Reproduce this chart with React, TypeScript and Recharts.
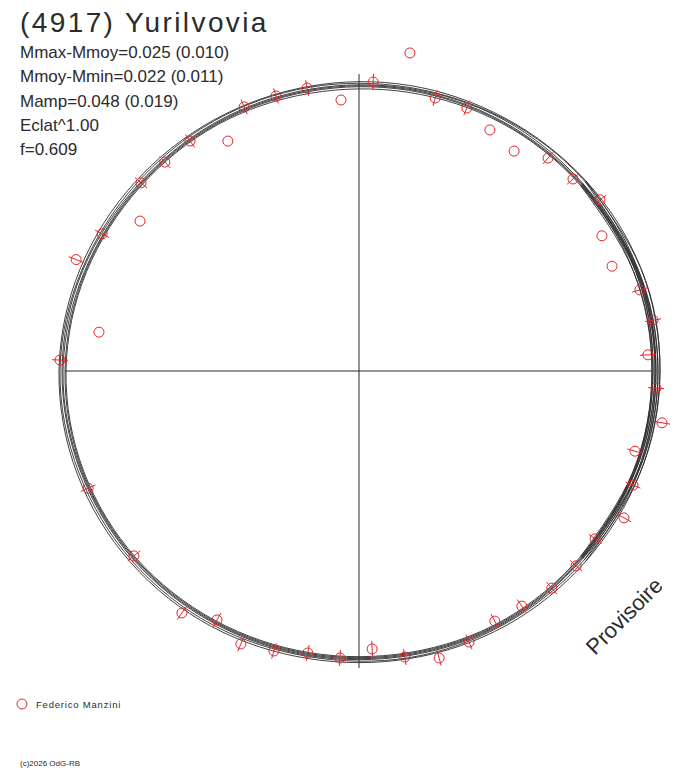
import { ReferenceLine, Scatter, ScatterChart, XAxis, YAxis } from 'recharts';

const W = 688;
const H = 768;
// plot units are chosen so that one unit is one pixel, origin at the polar centre
const X_DOMAIN: [number, number] = [-359, 329];
const Y_DOMAIN: [number, number] = [-397, 371];

const RED = '#e3262b';
const INK = '#2b2b2b';
const FONT = '"Liberation Sans", Arial, sans-serif';

// fitted light-curve models: radius every 20 degrees of phase angle
const curveAngles = [0, 20, 40, 60, 80, 100, 120, 140, 160, 180, 200, 220, 240, 260, 280, 300, 320, 340];
const curveA = [301, 300, 296, 292, 290, 289, 290, 293, 297, 300, 300, 298, 295, 292, 292, 294, 296, 299];
const curveB = [299, 297, 295, 291, 288, 288, 289, 291, 295, 299, 298, 296, 293, 290, 291, 292, 294, 297];
const curveC = [297, 296, 292, 290, 287, 286, 287, 289, 294, 297, 296, 294, 291, 289, 289, 291, 292, 296];
const curveD = [296, 295, 291, 288, 286, 285, 286, 288, 292, 296, 295, 293, 290, 288, 288, 290, 291, 294];
const curveE = [294, 294, 290, 287, 285, 284, 285, 287, 291, 294, 294, 292, 289, 287, 287, 289, 290, 293];
const curveF = [293, 292, 289, 286, 283, 282, 284, 286, 290, 293, 293, 291, 288, 286, 286, 288, 289, 292];
const curves = [curveA, curveB, curveC, curveD, curveE, curveF];

// observations (Federico Manzini): phase angle, radius, error half-length (0 = rejected point)
const obsAngle = [
  3.2, 9.8, 16.1, 22.5, 29.1, 35.4, 41.9, 48.4, 54.8, 61.5, 67.7, 74.4, 80.9, 87.2, 93.8, 100.4, 106.8,
  113.5, 119.7, 126.3, 132.9, 139.2, 145.6, 151.9, 158.5, 171.5, 177.9, 203.4, 219.4, 233.8, 240.3, 246.6,
  253.1, 259.7, 266.2, 272.7, 279.1, 285.6, 292.1, 298.5, 304.7, 311.6, 318.1, 324.6, 331.0, 337.4, 343.8,
  350.3, 356.7,
];
const obsRadius = [
  289.4, 298.4, 292.4, 273.9, 278.0, 295.5, 287.5, 284.8, 269.1, 274.3, 284.3, 283.4, 322.1, 289.3, 271.6,
  287.7, 287.3, 288.0, 264.7, 285.4, 285.2, 287.9, 265.4, 291.2, 304.0, 262.9, 299.2, 295.2, 291.3, 299.8,
  286.6, 297.4, 292.6, 286.6, 287.6, 278.3, 289.7, 297.9, 292.5, 284.6, 286.0, 290.4, 291.7, 289.7, 303.0,
  296.8, 287.4, 307.4, 297.5,
];
const obsError = [
  8, 8, 8, 0, 0, 8, 8, 8, 0, 0, 8, 8, 0, 8, 0, 8, 8, 8, 0, 8, 8, 8, 0, 8, 8, 0, 8, 8, 8, 8, 8, 8, 8, 8,
  8, 8, 8, 8, 8, 8, 8, 8, 8, 8, 8, 8, 8, 8, 8,
];

const statLines = [
  'Mmax-Mmoy=0.025 (0.010)',
  'Mmoy-Mmin=0.022 (0.011)',
  'Mamp=0.048 (0.019)',
  'Eclat^1.00',
  'f=0.609',
];

function toXY(angle: number, r: number) {
  const a = (angle * Math.PI) / 180;
  return { x: r * Math.cos(a), y: r * Math.sin(a) };
}

// wrap a couple of points round each end so the spline closes without a kink
const curveData = curves.map((radii) => {
  const pts = radii.map((r, i) => toXY(curveAngles[i], r));
  const n = pts.length;
  return [pts[n - 2], pts[n - 1], ...pts, pts[0], pts[1], pts[2]];
});

const obsData = obsAngle.map((angle, i) => ({
  ...toXY(angle, obsRadius[i]),
  angle,
  err: obsError[i],
}));

function ObsMarker(props: any) {
  const { cx, cy, payload } = props;
  const a = (payload.angle * Math.PI) / 180;
  const ux = Math.cos(a);
  const uy = -Math.sin(a);
  const e = payload.err;
  return (
    <g>
      {e > 0 && (
        <line x1={cx - ux * e} y1={cy - uy * e} x2={cx + ux * e} y2={cy + uy * e} stroke={RED} strokeWidth={1} />
      )}
      <circle cx={cx} cy={cy} r={5} fill="none" stroke={RED} strokeWidth={1} />
    </g>
  );
}

const NoMarker = () => <g />;

export default function App() {
  return (
    <div style={{ position: 'absolute', left: 0, top: 0, width: W, height: H, background: '#fff' }}>
      <ScatterChart width={W} height={H} margin={{ top: 0, right: 0, bottom: 0, left: 0 }}>
        <XAxis type="number" dataKey="x" domain={X_DOMAIN} hide allowDataOverflow />
        <YAxis type="number" dataKey="y" domain={Y_DOMAIN} hide allowDataOverflow />
        <ReferenceLine segment={[{ x: -294, y: 0 }, { x: 293, y: 0 }]} stroke={INK} strokeWidth={1} />
        <ReferenceLine segment={[{ x: 0, y: 297 }, { x: 0, y: -297 }]} stroke={INK} strokeWidth={1} />
        {curveData.map((data, i) => (
          <Scatter
            key={i}
            data={data}
            line={{ stroke: INK, strokeWidth: 0.9 }}
            lineJointType="natural"
            shape={NoMarker}
            isAnimationActive={false}
          />
        ))}
        <Scatter data={obsData} shape={ObsMarker} isAnimationActive={false} />
      </ScatterChart>
      <svg
        width={W}
        height={H}
        style={{ position: 'absolute', left: 0, top: 0, pointerEvents: 'none' }}
        fontFamily={FONT}
        fill={INK}
      >
        <text x={20} y={32} fontSize={28} letterSpacing={2.4}>
          (4917) Yurilvovia
        </text>
        {statLines.map((line, i) => (
          <text key={line} x={20} y={58 + i * 24.3} fontSize={17}>
            {line}
          </text>
        ))}
        <text x={595} y={656} fontSize={22} transform="rotate(-45 595 656)">
          Provisoire
        </text>
        <circle cx={22} cy={704} r={5} fill="none" stroke={RED} strokeWidth={1} />
        <text x={36} y={708} fontSize={9.5} letterSpacing={0.8}>
          Federico Manzini
        </text>
        <text x={20} y={766} fontSize={8}>
          (c)2026 OdG-RB
        </text>
      </svg>
    </div>
  );
}
